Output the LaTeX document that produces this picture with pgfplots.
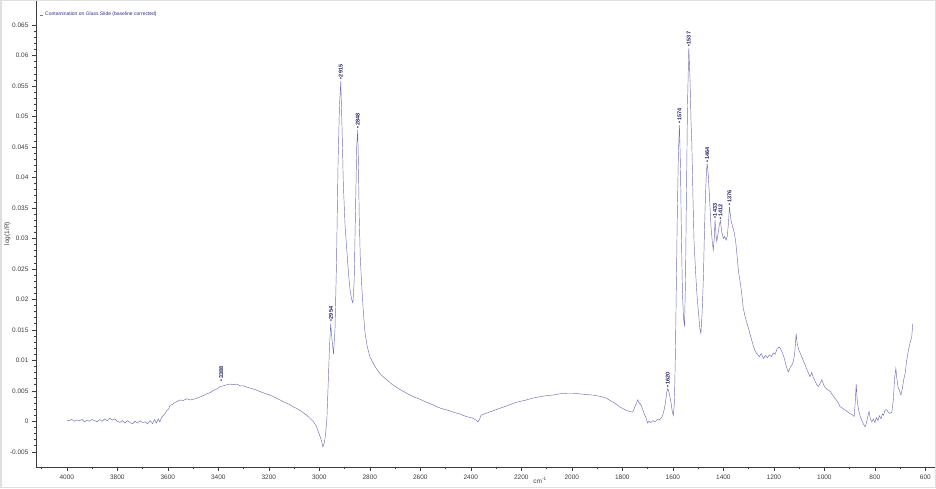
\documentclass[border=0pt]{standalone}
\usepackage{fontspec}
\setmainfont{Liberation Sans}
\usepackage{pgfplots}
\pgfplotsset{compat=1.18}
\usetikzlibrary{calc}
\definecolor{spec}{RGB}{110,110,176}
\definecolor{peak}{RGB}{30,30,95}
\definecolor{leg}{RGB}{45,45,140}
\definecolor{axc}{RGB}{60,60,60}

\pgfplotstableread{
wn val
4000 0.0002
3990 0.0001
3980 0.0003
3970 0.0000
3960 0.0002
3950 0.0001
3940 0.0003
3930 -0.0001
3920 0.0002
3910 0.0000
3900 0.0003
3890 0.0001
3880 -0.0001
3870 0.0003
3860 0.0000
3850 0.0004
3840 0.0001
3830 0.0005
3820 0.0002
3810 0.0004
3800 0.0000
3790 -0.0002
3780 0.0001
3770 -0.0003
3760 0.0001
3750 -0.0002
3740 -0.0004
3730 0.0000
3720 -0.0003
3710 0.0001
3700 -0.0002
3690 -0.0001
3680 -0.0004
3670 0.0001
3660 -0.0004
3652 0.0003
3645 -0.0003
3638 0.0004
3632 -0.0001
3625 0.0006
3617 0.0010
3610 0.0013
3604 0.0018
3597 0.0020
3591 0.0026
3580 0.0028
3571 0.0031
3560 0.0033
3551 0.0035
3540 0.0034
3525 0.0037
3512 0.0035
3499 0.0036
3485 0.0038
3472 0.0040
3460 0.0042
3446 0.0045
3432 0.0047
3419 0.0051
3405 0.0053
3393 0.0057
3380 0.0058
3366 0.0060
3353 0.0061
3340 0.0060
3327 0.0061
3313 0.0058
3300 0.0058
3287 0.0056
3270 0.0054
3248 0.0051
3230 0.0048
3210 0.0045
3195 0.0043
3175 0.0039
3160 0.0036
3142 0.0032
3120 0.0028
3100 0.0023
3089 0.0021
3070 0.0016
3050 0.0010
3035 0.0004
3023 -0.0001
3012 -0.0008
3004 -0.0017
2996 -0.0026
2990 -0.0034
2986 -0.0042
2980 -0.0035
2975 -0.0020
2970 0.0005
2965 0.0060
2960 0.0120
2955 0.0160
2950 0.0135
2944 0.0110
2938 0.0150
2932 0.0260
2926 0.0420
2920 0.0520
2915 0.0558
2910 0.0480
2905 0.0390
2898 0.0320
2891 0.0280
2884 0.0240
2878 0.0215
2872 0.0200
2867 0.0194
2862 0.0230
2857 0.0340
2852 0.0450
2848 0.0478
2845 0.0420
2842 0.0336
2838 0.0270
2832 0.0222
2825 0.0175
2819 0.0145
2810 0.0122
2799 0.0105
2785 0.0094
2772 0.0085
2755 0.0076
2733 0.0068
2710 0.0060
2680 0.0052
2650 0.0045
2620 0.0039
2601 0.0036
2580 0.0032
2550 0.0027
2530 0.0023
2510 0.0020
2490 0.0018
2470 0.0015
2443 0.0012
2420 0.0008
2400 0.0006
2392 0.0005
2380 0.0002
2372 -0.0001
2365 0.0004
2359 0.0010
2340 0.0013
2320 0.0016
2300 0.0019
2287 0.0021
2260 0.0025
2240 0.0028
2221 0.0031
2200 0.0033
2180 0.0035
2155 0.0038
2130 0.0040
2100 0.0042
2075 0.0043
2050 0.0045
2020 0.0046
1996 0.0046
1970 0.0045
1945 0.0044
1917 0.0043
1890 0.0041
1864 0.0038
1840 0.0032
1820 0.0027
1812 0.0024
1790 0.0019
1772 0.0016
1759 0.0015
1750 0.0024
1739 0.0035
1733 0.0030
1726 0.0027
1716 0.0015
1706 0.0005
1700 -0.0003
1695 0.0000
1688 -0.0002
1679 0.0001
1670 -0.0001
1660 0.0003
1653 0.0002
1645 0.0006
1640 0.0010
1634 0.0020
1629 0.0032
1624 0.0048
1620 0.0054
1614 0.0045
1607 0.0030
1602 0.0015
1598 0.0010
1594 0.0030
1590 0.0110
1586 0.0230
1582 0.0350
1578 0.0440
1574 0.0486
1570 0.0420
1566 0.0300
1562 0.0210
1558 0.0170
1554 0.0155
1550 0.0230
1546 0.0380
1542 0.0520
1537 0.0612
1532 0.0560
1528 0.0490
1525 0.0456
1520 0.0360
1516 0.0292
1510 0.0245
1505 0.0210
1498 0.0175
1493 0.0152
1489 0.0144
1484 0.0180
1479 0.0237
1475 0.0310
1471 0.0368
1467 0.0410
1464 0.0423
1460 0.0405
1455 0.0368
1449 0.0319
1444 0.0295
1440 0.0281
1436 0.0300
1433 0.0330
1429 0.0305
1426 0.0295
1421 0.0308
1416 0.0322
1412 0.0329
1406 0.0310
1400 0.0300
1395 0.0303
1389 0.0297
1384 0.0305
1379 0.0330
1376 0.0352
1370 0.0330
1363 0.0319
1356 0.0308
1350 0.0290
1345 0.0268
1340 0.0245
1334 0.0230
1328 0.0212
1321 0.0185
1314 0.0172
1306 0.0160
1300 0.0152
1294 0.0142
1287 0.0132
1280 0.0122
1274 0.0115
1266 0.0110
1258 0.0106
1250 0.0111
1241 0.0103
1233 0.0108
1226 0.0104
1218 0.0109
1210 0.0106
1202 0.0112
1195 0.0110
1188 0.0118
1180 0.0122
1175 0.0120
1168 0.0114
1160 0.0105
1152 0.0092
1146 0.0084
1142 0.0081
1136 0.0088
1128 0.0093
1123 0.0098
1118 0.0110
1114 0.0130
1112 0.0144
1108 0.0128
1102 0.0118
1096 0.0112
1088 0.0104
1080 0.0096
1072 0.0088
1064 0.0080
1057 0.0073
1050 0.0080
1044 0.0072
1036 0.0065
1030 0.0060
1024 0.0057
1017 0.0062
1010 0.0068
1003 0.0060
996 0.0055
988 0.0052
977 0.0049
966 0.0042
955 0.0036
946 0.0031
938 0.0024
930 0.0022
920 0.0019
910 0.0016
900 0.0013
890 0.0011
882 0.0008
878 0.0030
874 0.0061
870 0.0035
865 0.0019
858 0.0008
852 0.0002
846 -0.0004
839 -0.0009
833 -0.0002
828 0.0008
823 0.0016
818 0.0004
812 -0.0001
806 0.0004
800 -0.0002
794 0.0006
788 0.0001
782 0.0009
776 0.0004
770 0.0012
766 0.0010
760 0.0018
753 0.0019
746 0.0014
740 0.0013
733 0.0015
727 0.0035
722 0.0070
717 0.0087
713 0.0070
708 0.0055
703 0.0051
697 0.0043
692 0.0052
686 0.0068
680 0.0079
674 0.0100
667 0.0117
661 0.0128
654 0.0139
650 0.0160
}\spectrum

\begin{document}
\begin{tikzpicture}
\begin{axis}[
  name=ax,
  scale only axis,
  width=900pt, height=467pt,
  x dir=reverse,
  xmin=558, xmax=4122,
  ymin=-0.0075, ymax=0.0691,
  axis x line=bottom, axis y line=left,
  axis line style={-, axc, line width=0.6pt},
  tick align=outside,
  major tick length=4pt, minor tick length=2pt,
  every tick/.style={axc, line width=0.5pt},
  xtick={600,800,...,4000},
  minor xtick={700,900,...,4100},
  ytick={-0.005,0,...,0.065},
  minor y tick num=4,
  scaled x ticks=false, scaled y ticks=false,
  xticklabel style={font=\fontsize{6.5}{7}\selectfont, text=axc,
    /pgf/number format/.cd, 1000 sep={}, assume math mode=true},
  yticklabel style={font=\fontsize{6.5}{7}\selectfont, text=axc,
    /pgf/number format/.cd, fixed, precision=3, assume math mode=true},
  xlabel={cm\textsuperscript{-1}},
  xlabel style={font=\fontsize{6.5}{7}\selectfont, text=axc,
    at={(axis description cs:0.56,0)}, anchor=north, yshift=-7pt},
  ylabel={log(1/R)},
  ylabel style={font=\fontsize{6.5}{7}\selectfont, text=axc,
    at={(axis description cs:-0.0317,0.5)}, anchor=center},
  legend style={draw=none, fill=none, at={(axis description cs:0.004,0.968)},
    anchor=west, font=\fontsize{5}{6}\selectfont, text=leg, inner sep=0pt},
  legend image code/.code={\draw[#1] (0pt,0pt) -- (3pt,0pt);},
  clip=false,
]
\addplot[spec, line width=0.45pt] table[x=wn, y=val] {\spectrum};
\addlegendentry{Contamination on Glass Slide (baseline corrected)}

\addplot[draw=none, mark=none, forget plot,
  point meta=explicit symbolic,
  nodes near coords={\textbullet\,\pgfplotspointmeta},
  every node near coord/.append style={rotate=90, anchor=west, inner sep=1pt,
    font=\fontsize{5.5}{6}\selectfont\bfseries, text=peak}]
  coordinates {
  (3388,0.0064) [3388]
  (2954,0.0161) [2954]
  (2915,0.0558) [2915]
  (2848,0.0478) [2848]
  (1620,0.0054) [1620]
  (1574,0.0486) [1574]
  (1537,0.0612) [1537]
  (1464,0.0423) [1464]
  (1433,0.0330) [1433]
  (1412,0.0329) [1412]
  (1376,0.0352) [1376]
  };
\end{axis}
\pgfresetboundingbox
\path[use as bounding box] ($(ax.south west)+(-36pt,-21pt)$) rectangle (ax.north east);
\draw[gray!25, line width=1.5pt] ($(ax.south west)+(-35.25pt,-20.25pt)$) rectangle ($(ax.north east)+(-0.75pt,-0.75pt)$);
\end{tikzpicture}
\end{document}
